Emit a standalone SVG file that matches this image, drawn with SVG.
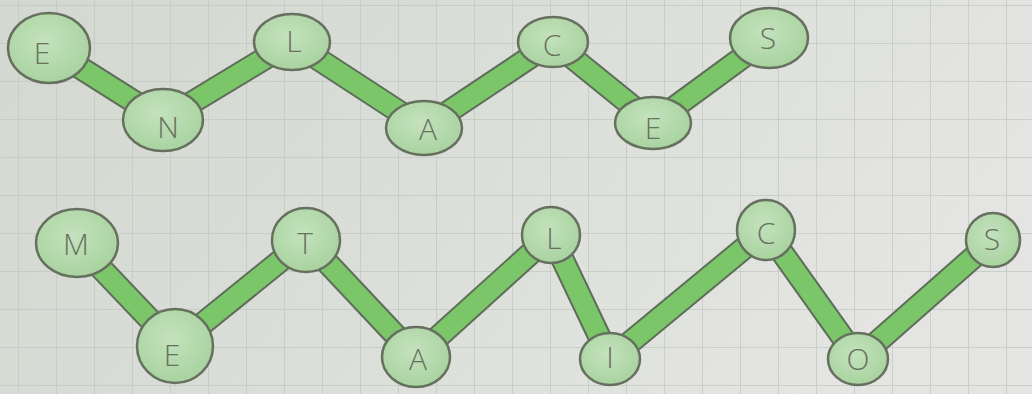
<svg xmlns="http://www.w3.org/2000/svg" width="1032" height="394" viewBox="0 0 1032 394">
<defs>
<linearGradient id="paper" x1="0" y1="0" x2="1" y2="0.3">
<stop offset="0" stop-color="#d3d8d0"/>
<stop offset="0.6" stop-color="#dcdfda"/>
<stop offset="1" stop-color="#e4e5e2"/>
</linearGradient>
<pattern id="grid" width="38" height="38" patternUnits="userSpaceOnUse" x="18" y="5">
<path d="M0 0V38M0 0H38" fill="none" stroke="#c3c8c2" stroke-width="1.5"/>
</pattern>
<radialGradient id="nodefill" cx="0.45" cy="0.4" r="0.6">
<stop offset="0" stop-color="#c4e2bd"/>
<stop offset="1" stop-color="#a9d3a0"/>
</radialGradient>
</defs>
<style>
.bo{stroke:#5e6d5a;stroke-width:24;stroke-linecap:butt;fill:none}
.bi{stroke:#7cc66a;stroke-width:20;stroke-linecap:butt;fill:none}
.node ellipse{fill:url(#nodefill);stroke:#66705f;stroke-width:2.5}
.node text{font-family:"Open Sans","Liberation Sans",Arial,sans-serif;font-size:30px;fill:#66725f;text-anchor:middle;dominant-baseline:central;font-weight:300}
</style>
<rect width="1032" height="394" fill="url(#paper)"/>
<rect width="1032" height="394" fill="url(#grid)"/>
<g id="connectors">
<g class="bo">
<line x1="49" y1="48" x2="163" y2="120"/>
<line x1="163" y1="120" x2="292" y2="42"/>
<line x1="292" y1="42" x2="424" y2="128"/>
<line x1="424" y1="128" x2="553" y2="42"/>
<line x1="553" y1="42" x2="653" y2="123"/>
<line x1="653" y1="123" x2="769" y2="38"/>
<line x1="77" y1="243" x2="175" y2="346"/>
<line x1="175" y1="346" x2="306" y2="240"/>
<line x1="306" y1="240" x2="416" y2="357"/>
<line x1="416" y1="357" x2="551" y2="235"/>
<line x1="551" y1="235" x2="610" y2="359"/>
<line x1="610" y1="359" x2="766" y2="230"/>
<line x1="766" y1="230" x2="858" y2="359"/>
<line x1="858" y1="359" x2="993" y2="240"/>
</g>
<g class="bi">
<line x1="49" y1="48" x2="163" y2="120"/>
<line x1="163" y1="120" x2="292" y2="42"/>
<line x1="292" y1="42" x2="424" y2="128"/>
<line x1="424" y1="128" x2="553" y2="42"/>
<line x1="553" y1="42" x2="653" y2="123"/>
<line x1="653" y1="123" x2="769" y2="38"/>
<line x1="77" y1="243" x2="175" y2="346"/>
<line x1="175" y1="346" x2="306" y2="240"/>
<line x1="306" y1="240" x2="416" y2="357"/>
<line x1="416" y1="357" x2="551" y2="235"/>
<line x1="551" y1="235" x2="610" y2="359"/>
<line x1="610" y1="359" x2="766" y2="230"/>
<line x1="766" y1="230" x2="858" y2="359"/>
<line x1="858" y1="359" x2="993" y2="240"/>
</g>
</g>
<g id="n-E1" class="node"><ellipse cx="49" cy="48" rx="41" ry="35"/><text x="42" y="52">E</text></g>
<g id="n-N" class="node"><ellipse cx="163" cy="120" rx="40" ry="31"/><text x="168" y="126">N</text></g>
<g id="n-L1" class="node"><ellipse cx="292" cy="42" rx="38" ry="28"/><text x="294" y="40">L</text></g>
<g id="n-A1" class="node"><ellipse cx="424" cy="128" rx="38" ry="27"/><text x="428" y="128">A</text></g>
<g id="n-C1" class="node"><ellipse cx="553" cy="42" rx="35" ry="25"/><text x="552" y="44">C</text></g>
<g id="n-E2" class="node"><ellipse cx="653" cy="123" rx="38" ry="26"/><text x="653" y="127">E</text></g>
<g id="n-S1" class="node"><ellipse cx="769" cy="38" rx="39" ry="30"/><text x="768" y="37">S</text></g>
<g id="n-M" class="node"><ellipse cx="77" cy="243" rx="41" ry="34"/><text x="76" y="243">M</text></g>
<g id="n-E3" class="node"><ellipse cx="175" cy="346" rx="38" ry="37"/><text x="172" y="354">E</text></g>
<g id="n-T" class="node"><ellipse cx="306" cy="240" rx="34" ry="32"/><text x="305" y="242">T</text></g>
<g id="n-A2" class="node"><ellipse cx="416" cy="357" rx="34" ry="30"/><text x="418" y="358">A</text></g>
<g id="n-L2" class="node"><ellipse cx="551" cy="235" rx="29" ry="28"/><text x="554" y="237">L</text></g>
<g id="n-I" class="node"><ellipse cx="610" cy="359" rx="30" ry="26"/><text x="610" y="356">I</text></g>
<g id="n-C2" class="node"><ellipse cx="766" cy="230" rx="29" ry="30"/><text x="766" y="232">C</text></g>
<g id="n-O" class="node"><ellipse cx="858" cy="359" rx="30" ry="26"/><text x="858" y="358">O</text></g>
<g id="n-S2" class="node"><ellipse cx="993" cy="240" rx="27" ry="27"/><text x="992" y="238">S</text></g>
</svg>
